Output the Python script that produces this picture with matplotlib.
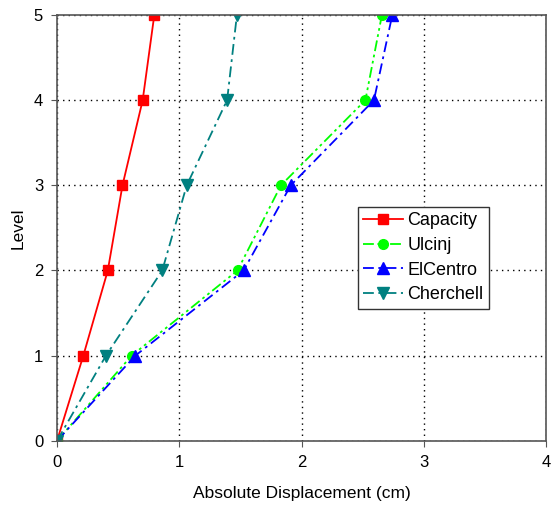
import matplotlib
matplotlib.use("Agg")
import matplotlib.pyplot as plt

plt.rcParams['font.family'] = ['Liberation Sans', 'DejaVu Sans']

levels = [0, 1, 2, 3, 4, 5]
capacity = [0, 0.215, 0.415, 0.535, 0.70, 0.795]
ulcinj = [0, 0.61, 1.475, 1.83, 2.52, 2.655]
elcentro = [0, 0.64, 1.525, 1.91, 2.59, 2.74]
cherchell = [0, 0.40, 0.86, 1.06, 1.39, 1.47]

fig = plt.figure(figsize=(5.52, 5.09), dpi=100)
ax = fig.add_axes([0.1033, 0.134, 0.8867, 0.8365])

ax.plot(capacity, levels, color='#ff0000', linestyle='-', marker='s', markersize=7, lw=1.3, label='Capacity')
ax.plot(ulcinj, levels, color='#00ff00', linestyle=(0, (6, 2, 1.5, 2, 1.5, 2)), marker='o', markersize=7, lw=1.3, label='Ulcinj')
ax.plot(elcentro, levels, color='#0000ff', linestyle=(0, (6, 2.5, 1.5, 2.5)), marker='^', markersize=8, lw=1.3, label='ElCentro')
ax.plot(cherchell, levels, color='#008080', linestyle=(0, (6, 2.5, 1.5, 2.5)), marker='v', markersize=8, lw=1.3, label='Cherchell')

ax.set_xlim(0, 4)
ax.set_ylim(0, 5)
ax.set_xticks([0, 1, 2, 3, 4])
ax.set_yticks([0, 1, 2, 3, 4, 5])
ax.grid(True, color='black', linestyle=(0, (1, 3)), lw=1.0)
for s in ax.spines.values():
    s.set_color('#555555')
    s.set_linewidth(1.2)
ax.tick_params(direction='out', length=4, pad=6, labelsize=12, color='#555555')
ax.set_xlabel('Absolute Displacement (cm)', fontsize=12.5, labelpad=12)
ax.set_ylabel('Level', fontsize=12.5, labelpad=6)

leg = ax.legend(loc='upper left', bbox_to_anchor=(0.614, 0.549), fontsize=13,
                fancybox=False, framealpha=1, edgecolor='#333333',
                borderpad=0.3, labelspacing=0.42, handlelength=2.2,
                handletextpad=0.25, borderaxespad=0)
leg.get_frame().set_linewidth(1.0)

fig.savefig('out.png', dpi=100)
